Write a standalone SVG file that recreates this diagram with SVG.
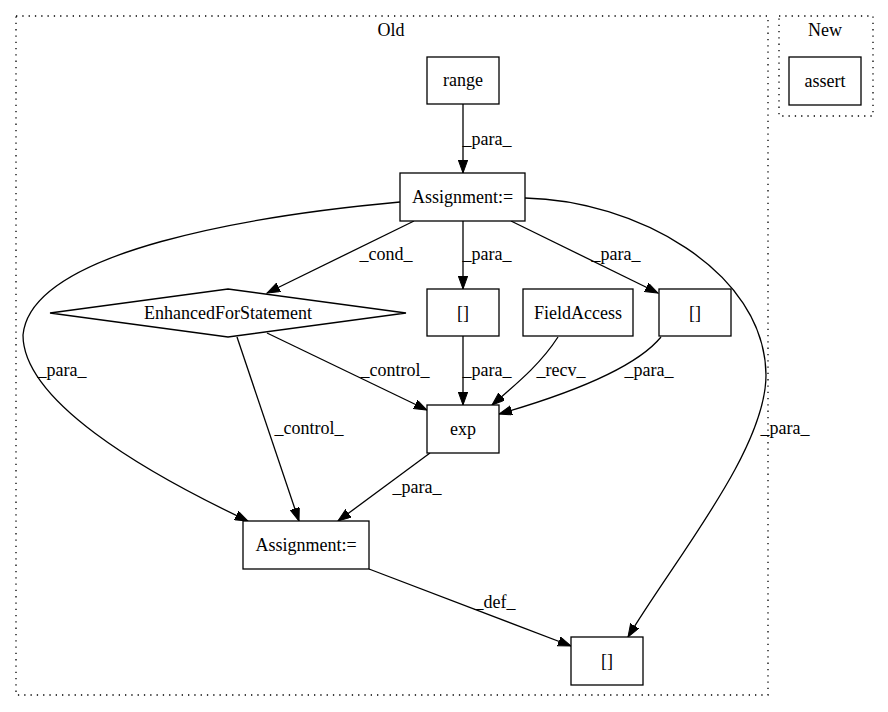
<svg xmlns="http://www.w3.org/2000/svg" width="888" height="712" viewBox="0 0 888 712">
<defs>
<style>
text{font-family:"Liberation Serif","Times New Roman",serif;font-size:18px;fill:#000;text-anchor:middle}
.node{fill:#fff;stroke:#000;stroke-width:1.3}
.cluster{fill:none;stroke:#000;stroke-width:1.3;stroke-dasharray:1.3,5}
.edge{fill:none;stroke:#000;stroke-width:1.3}
</style>
<marker id="arr" markerUnits="userSpaceOnUse" markerWidth="14" markerHeight="10" refX="13" refY="4.7" orient="auto">
<path d="M0,0 L13,4.7 L0,9.4 z" fill="#000" stroke="#000" stroke-width="1"/>
</marker>
</defs>
<rect width="888" height="712" fill="#fff"/>
<g id="cluster_old">
<rect class="cluster" x="16" y="16" width="752" height="679"/>
<text x="391" y="36">Old</text>
</g>
<g id="cluster_new">
<rect class="cluster" x="779" y="16" width="94" height="100"/>
<text x="825" y="36">New</text>
</g>
<g id="edges">
<path class="edge" marker-end="url(#arr)" d="M463,104 L463,173"/>
<text x="487" y="145">_para_</text>
<path class="edge" marker-end="url(#arr)" d="M414,221 L267,293"/>
<text x="386" y="260">_cond_</text>
<path class="edge" marker-end="url(#arr)" d="M463,221 L463,289"/>
<text x="487" y="260">_para_</text>
<path class="edge" marker-end="url(#arr)" d="M511,221 L658,293"/>
<text x="616" y="260">_para_</text>
<path class="edge" marker-end="url(#arr)" d="M400,202 C258,215 31,250 23,335 C23,400 140,470 248,521"/>
<text x="62" y="376">_para_</text>
<path class="edge" marker-end="url(#arr)" d="M525,198 C634,200 765,270 766,375 C766,450 674,560 628,637"/>
<text x="785" y="434">_para_</text>
<path class="edge" marker-end="url(#arr)" d="M267,333 L427,410"/>
<text x="395" y="376">_control_</text>
<path class="edge" marker-end="url(#arr)" d="M237,337 L299,521"/>
<text x="309" y="434">_control_</text>
<path class="edge" marker-end="url(#arr)" d="M463,336 L463,405"/>
<text x="487" y="376">_para_</text>
<path class="edge" marker-end="url(#arr)" d="M558,337 C540,365 515,385 492,405"/>
<text x="561" y="376">_recv_</text>
<path class="edge" marker-end="url(#arr)" d="M661,337 C634,370 565,395 499,414"/>
<text x="649" y="376">_para_</text>
<path class="edge" marker-end="url(#arr)" d="M430,453 L338,521"/>
<text x="417" y="493">_para_</text>
<path class="edge" marker-end="url(#arr)" d="M369,569 L571,646"/>
<text x="495" y="608">_def_</text>
</g>
<g id="range">
<rect class="node" x="427" y="57" width="72" height="47"/>
<text x="463" y="86">range</text>
</g>
<g id="assert">
<rect class="node" x="789" y="57" width="72" height="48"/>
<text x="825" y="87">assert</text>
</g>
<g id="assign1">
<rect class="node" x="400" y="173" width="125" height="48"/>
<text x="462.5" y="203">Assignment:=</text>
</g>
<g id="efs">
<polygon class="node" points="228,289 406,313 228,337 50,313"/>
<text x="228" y="319">EnhancedForStatement</text>
</g>
<g id="idx1">
<rect class="node" x="427" y="289" width="72" height="47"/>
<text x="463" y="319">[]</text>
</g>
<g id="fieldaccess">
<rect class="node" x="523" y="289" width="110" height="47"/>
<text x="578" y="319">FieldAccess</text>
</g>
<g id="idx2">
<rect class="node" x="659" y="289" width="72" height="47"/>
<text x="695" y="319">[]</text>
</g>
<g id="exp">
<rect class="node" x="427" y="405" width="72" height="48"/>
<text x="463" y="435">exp</text>
</g>
<g id="assign2">
<rect class="node" x="243" y="521" width="126" height="48"/>
<text x="306" y="551">Assignment:=</text>
</g>
<g id="idx3">
<rect class="node" x="571" y="637" width="72" height="48"/>
<text x="607" y="667">[]</text>
</g>
</svg>
